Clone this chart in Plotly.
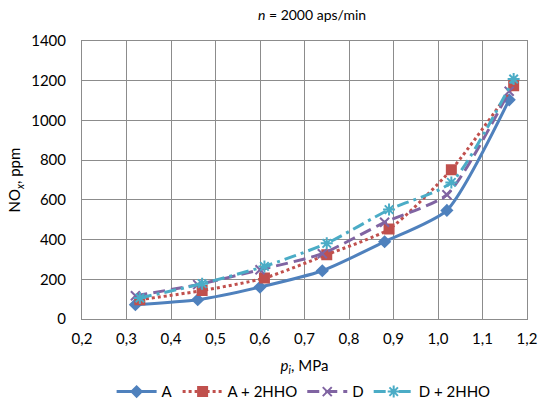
import plotly.graph_objects as go

x_base = [0.32, 0.46, 0.60, 0.74, 0.88, 1.02, 1.16]
x_hho = [0.33, 0.47, 0.61, 0.75, 0.89, 1.03, 1.17]

A = [72, 97, 161, 243, 389, 547, 1104]
A_HHO = [97, 143, 206, 324, 453, 752, 1175]
D = [117, 173, 248, 329, 487, 626, 1147]
D_HHO = [106, 178, 265, 381, 551, 688, 1209]

names = ["A", "A + 2HHO", "D", "D + 2HHO"]
xs = [x_base, x_hho, x_base, x_hho]
ys = [A, A_HHO, D, D_HHO]
colors = ["#4F81BD", "#C0504D", "#8064A2", "#4BACC6"]
dashes = ["solid", "dot", "12px,6px", "12px,5px,3px,5px"]
symbols = ["diamond", "square", "x-thin-open", "asterisk-open"]
msizes = [8, 9, 9, 10]

fig = go.Figure()
for n, x, y, c, d, s, ms in zip(names, xs, ys, colors, dashes, symbols, msizes):
    fig.add_trace(go.Scatter(
        x=x, y=y, name=n, mode="lines+markers",
        line=dict(color=c, width=3, dash=d, shape="spline", smoothing=0.6),
        marker=dict(symbol=s, size=ms, color=c, line=dict(color=c, width=2)),
    ))

fig.update_layout(
    width=543, height=402,
    margin=dict(l=82, r=16, t=41, b=83, autoexpand=False),
    paper_bgcolor="white", plot_bgcolor="white",
    font=dict(family="Lato, Liberation Sans, sans-serif", size=15, color="#000000"),
    separators=", ",
    title=dict(text="<i>n</i> = 2000 aps/min", x=0.517, xref="paper", xanchor="center",
               y=0.963, yanchor="middle", font=dict(size=14)),
    showlegend=True,
    legend=dict(orientation="h", x=0.498, xanchor="center", y=-0.262, yanchor="middle",
                font=dict(size=15), itemwidth=40, tracegroupgap=0),
)
fig.update_xaxes(
    range=[0.2, 1.2], dtick=0.1, tick0=0.2, tickformat=".1f", automargin=False,
    showgrid=True, gridcolor="#8C8C8C", gridwidth=1,
    showline=True, linecolor="#8C8C8C", mirror=True, zeroline=False,
    ticks="outside", ticklen=6, tickcolor="rgba(0,0,0,0)",
    title=dict(text="<i>p</i><sub><i>i</i></sub>, MPa", font=dict(size=15), standoff=14),
)
fig.update_yaxes(
    range=[0, 1400], dtick=200, automargin=False,
    showgrid=True, gridcolor="#8C8C8C", gridwidth=1,
    showline=True, linecolor="#8C8C8C", mirror=True, zeroline=False,
    ticks="outside", ticklen=12, tickcolor="rgba(0,0,0,0)",
    title=dict(text="NO<sub><i>x</i></sub>, ppm", font=dict(size=15), standoff=6),
)

fig.write_html("out.html", config={"displayModeBar": False},
               post_script="document.body.style.margin='0';document.body.style.overflow='hidden';")
